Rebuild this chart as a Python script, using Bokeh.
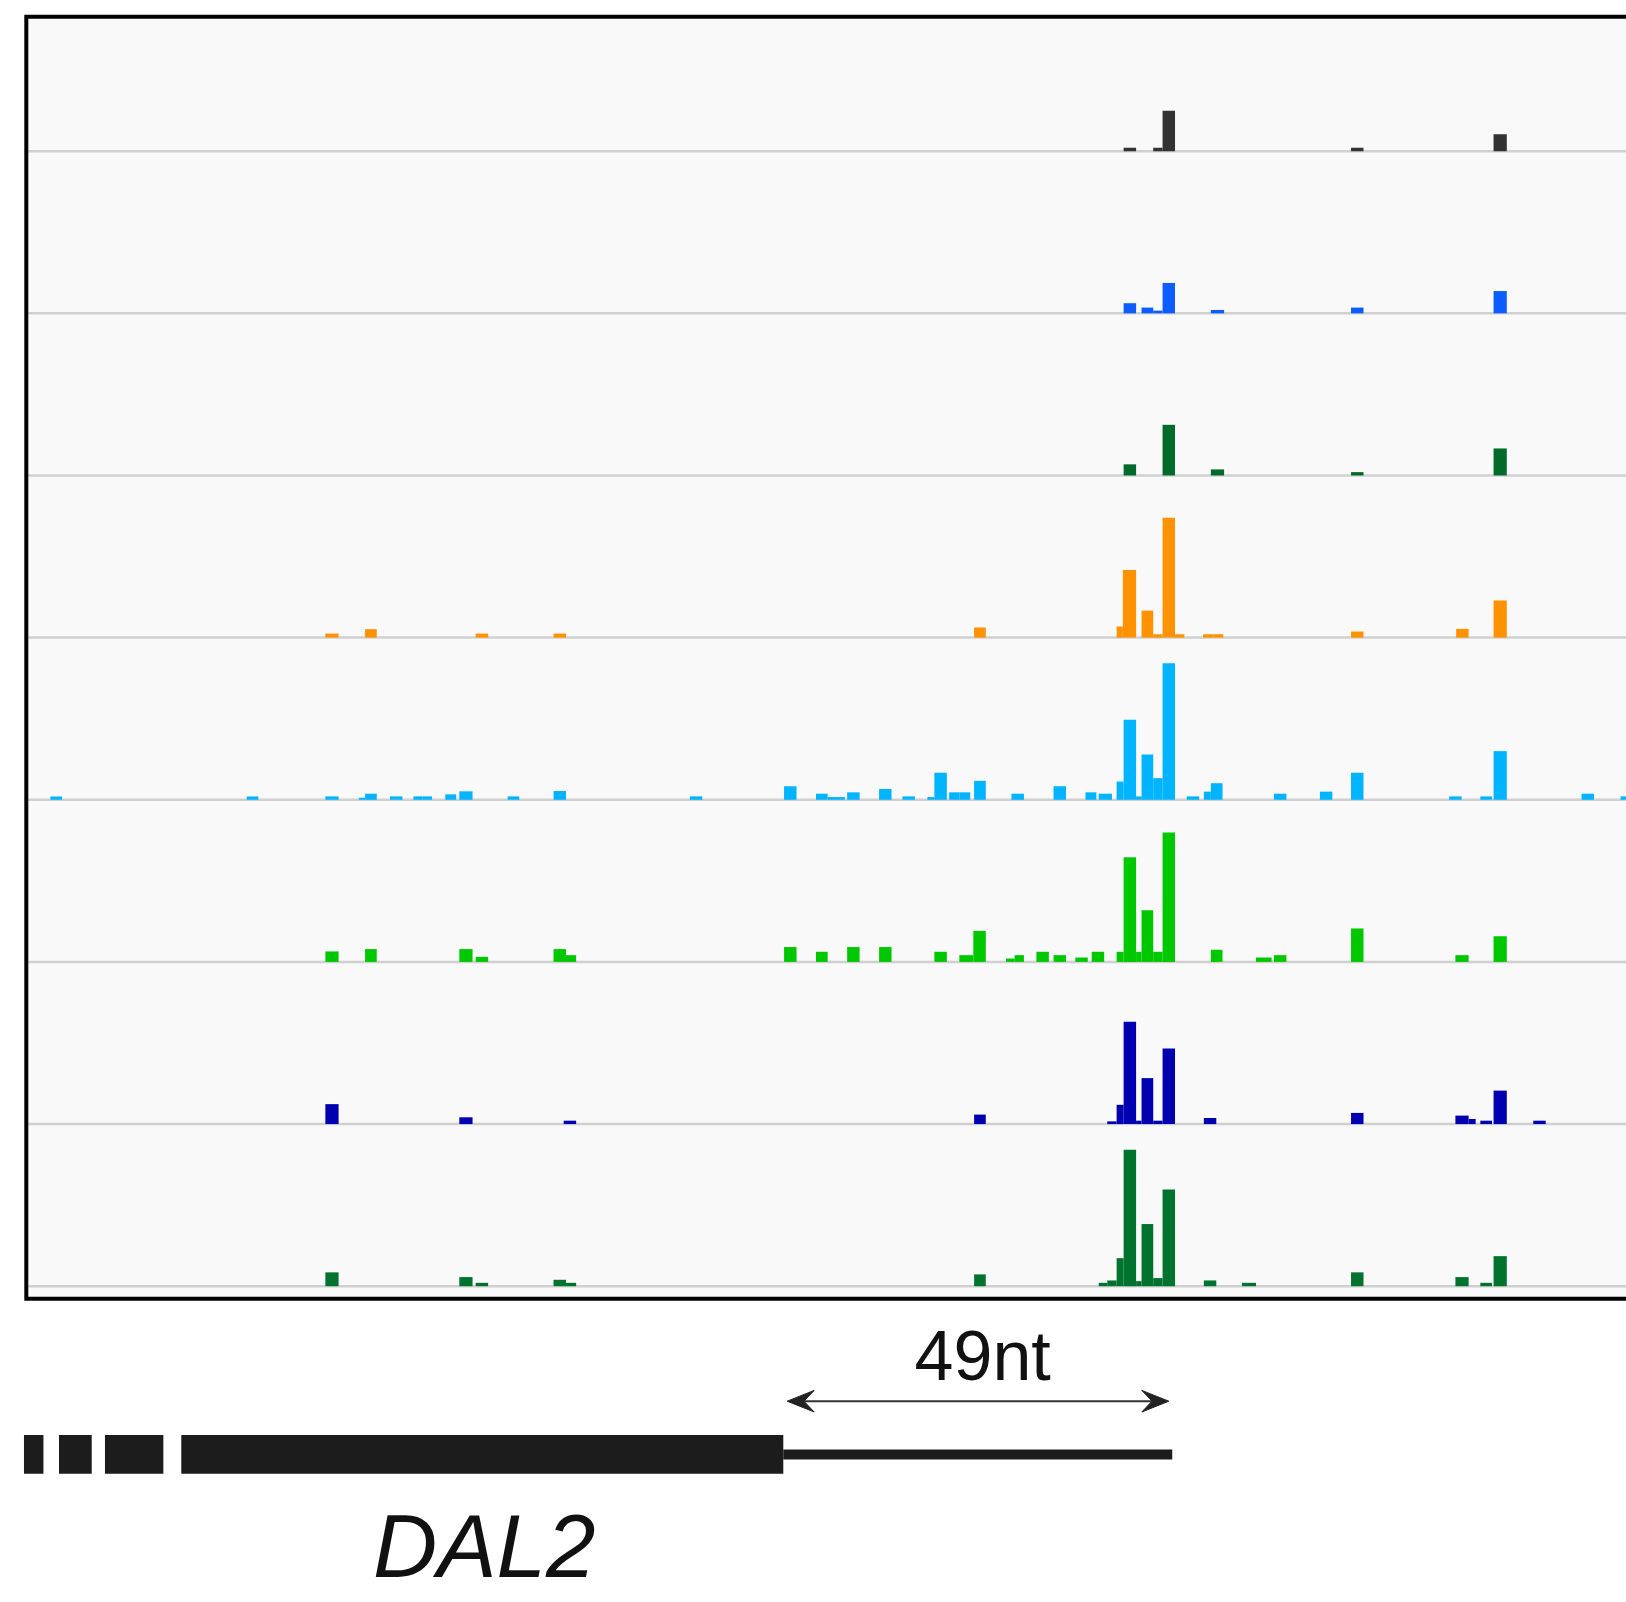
from bokeh.plotting import figure
from bokeh.models import Range1d, ColumnDataSource, Label
from bokeh.embed import file_html
from bokeh.resources import INLINE

# ---------------- DATA ----------------
# Coverage tracks: bins given as (start nt, end nt) relative to the poly(A) site, value = reads
trk1_start = [-5.8, -2.0, -0.8, 23.4, 41.7]
trk1_end   = [-4.2, -0.8,  0.8, 25.0, 43.4]
trk1_val   = [1, 1, 12, 1, 5]

trk2_start = [-5.8, -3.5, -2.0, -0.8, 5.4, 23.4, 41.7]
trk2_end   = [-4.2, -2.0, -0.8,  0.8, 7.1, 25.0, 43.4]
trk2_val   = [3, 1.7, 0.8, 9, 1, 1.7, 6.6]

trk3_start = [-5.8, -0.8, 5.4, 23.4, 41.7]
trk3_end   = [-4.2,  0.8, 7.1, 25.0, 43.4]
trk3_val   = [3.3, 15, 1.8, 1, 8]

trk4_start = [-108.3, -103.2, -89.0, -79.0, -25.0, -6.7, -5.9, -3.5, -2.0, -0.8, 0.8, 4.4, 5.7, 23.4, 36.9, 41.7]
trk4_end   = [-106.6, -101.7, -87.4, -77.4, -23.5, -5.9, -4.2, -2.0, -0.8,  0.8, 2.0, 5.7, 7.0, 25.0, 38.5, 43.4]
trk4_val   = [1.2, 2.5, 1.2, 1.2, 3, 3.3, 20, 8, 1, 35.5, 1, 1, 1, 1.8, 2.6, 11]

trk5_start = [-143.6, -118.4, -108.3, -104.0, -103.2, -100.0, -97.0, -95.8, -92.9, -91.1, -84.9, -79.0,
              -61.5, -49.4, -45.3, -43.8, -41.3, -37.2, -34.2, -31.0, -30.1, -28.2, -26.9, -25.0,
              -20.2, -14.8, -10.7, -9.0, -6.7, -5.8, -4.2, -3.5, -2.0, -0.8, 2.3, 4.5, 5.4,
              13.5, 19.4, 23.4, 36.0, 40.0, 41.7, 53.0, 58.0]
trk5_end   = [-142.1, -116.9, -106.6, -103.2, -101.7, -98.4, -95.8, -94.6, -91.5, -89.4, -83.4, -77.4,
              -59.9, -47.8, -43.8, -41.6, -39.7, -35.6, -32.6, -30.1, -28.5, -26.9, -25.5, -23.5,
              -18.6, -13.2, -9.3, -7.3, -5.8, -4.2, -3.5, -2.0, -0.8, 0.8, 3.9, 5.4, 6.9,
              15.1, 21.0, 25.0, 37.6, 41.5, 43.4, 54.6, 59.6]
trk5_val   = [1, 1, 1, 0.6, 1.8, 1, 1, 1, 1.6, 2.5, 1, 2.6,
              1, 4, 1.8, 0.8, 2.2, 3.2, 1, 0.8, 8, 2.2, 2.2, 5.6,
              1.8, 4, 2.2, 1.8, 5.4, 23.7, 1, 13.4, 6.4, 40.4, 1, 2.4, 4.9,
              1.8, 2.4, 8, 1, 1, 14.4, 1.8, 1]

trk6_start = [-108.3, -103.2, -91.1, -89.0, -79.0, -77.4, -49.4, -45.3, -41.3, -37.2, -30.1, -26.9, -25.1,
              -20.9, -19.8, -17.0, -14.8, -12.0, -9.9, -6.7, -5.8, -4.2, -3.5, -2.0, -0.8,
              5.4, 11.2, 13.5, 23.4, 36.8, 41.7]
trk6_end   = [-106.6, -101.7, -89.4, -87.4, -77.4, -76.1, -47.8, -43.8, -39.7, -35.6, -28.5, -25.1, -23.5,
              -19.8, -18.6, -15.4, -13.2, -10.4, -8.3, -5.8, -4.2, -3.5, -2.0, -0.8, 0.8,
              6.9, 13.2, 15.1, 25.0, 38.5, 43.4]
trk6_val   = [3.1, 3.8, 3.8, 1.5, 3.8, 2, 4.4, 3, 4.4, 4.4, 3, 2, 9.2,
              1, 2, 3, 2, 1.3, 3, 3, 31, 3, 15.3, 3, 38.3,
              3.6, 1.3, 2, 9.9, 2, 7.6]

trk7_start = [-108.3, -91.1, -77.7, -25.0, -7.9, -6.7, -5.8, -4.2, -3.5, -2.0, -0.8, 4.5, 23.4,
              36.8, 38.5, 40.0, 41.7, 46.8]
trk7_end   = [-106.6, -89.4, -76.1, -23.5, -6.7, -5.8, -4.2, -3.5, -2.0, -0.8,  0.8, 6.1, 25.0,
              38.5, 39.4, 41.5, 43.4, 48.4]
trk7_val   = [5.9, 2, 1, 2.8, 0.8, 5.7, 30.3, 1, 13.6, 1, 22.4, 1.8, 3.3,
              2.5, 1.5, 1, 9.9, 1]

trk8_start = [-108.3, -91.1, -89.0, -79.0, -77.4, -25.0, -9.0, -7.9, -6.7, -5.8, -4.2, -3.5, -2.0, -0.8,
              4.5, 9.4, 23.4, 36.8, 40.0, 41.7]
trk8_end   = [-106.6, -89.4, -87.4, -77.4, -76.1, -23.5, -7.9, -6.7, -5.8, -4.2, -3.5, -2.0, -0.8,  0.8,
              6.1, 11.2, 25.0, 38.5, 41.5, 43.4]
trk8_val   = [4.1, 2.7, 1, 1.9, 1, 3.5, 1, 1.7, 8.3, 40.4, 1.5, 18.4, 2.4, 28.6,
              1.7, 1, 4.1, 2.7, 1, 8.9]

track_colors = ["#333333", "#0d5cff", "#006b2b", "#ff9200", "#00b4ff", "#00c800", "#0000b0", "#00732f"]

# Gene model (nt relative to poly(A) site)
exon_start = [-147.0, -142.5, -136.6, -126.8]
exon_end   = [-144.5, -138.3, -129.1, -49.5]
utr_start  = -49.5
utr_end    = 0.44
span_start = -49.0
span_end   = 0.0
span_label = "49nt"
gene_name  = "DAL2"

# ---------------- LAYOUT ----------------
W, H = 1626, 1602
PX_PER_NT = 7.788
PX_PER_UNIT = 3.378
ORIGIN_X_PX = 1168.3        # canvas x of nt 0
BASE_Y_PX = 1285.7          # canvas y of lowest track baseline
TRACK_PITCH = 48.0          # track height in value units
N = 8

x0 = -ORIGIN_X_PX / PX_PER_NT
x1 = (W - ORIGIN_X_PX) / PX_PER_NT
y0 = -(H - BASE_Y_PX) / PX_PER_UNIT
y1 = BASE_Y_PX / PX_PER_UNIT

p = figure(width=W, height=H, output_backend="svg", toolbar_location=None,
           x_range=Range1d(x0, x1), y_range=Range1d(y0, y1),
           x_axis_type=None, y_axis_type=None, min_border=0,
           background_fill_color="white", border_fill_color="white")
p.grid.visible = False
p.outline_line_color = None

frame_left = -146.7
frame_right = x1 + 20
frame_top = N * TRACK_PITCH - 8.2
frame_bottom = -3.7

# panel background
p.quad(left=[frame_left], right=[frame_right], top=[frame_top], bottom=[frame_bottom],
       fill_color="#f9f9f9", line_color=None)

# baselines
bases = [(N - 1 - i) * TRACK_PITCH for i in range(N)]
p.segment(x0=[frame_left] * N, x1=[frame_right] * N, y0=bases, y1=bases,
          line_color="#d0d0d0", line_width=2.5)

tracks = [
    (trk1_start, trk1_end, trk1_val), (trk2_start, trk2_end, trk2_val),
    (trk3_start, trk3_end, trk3_val), (trk4_start, trk4_end, trk4_val),
    (trk5_start, trk5_end, trk5_val), (trk6_start, trk6_end, trk6_val),
    (trk7_start, trk7_end, trk7_val), (trk8_start, trk8_end, trk8_val),
]
for i, (s, e, v) in enumerate(tracks):
    b = bases[i]
    src = ColumnDataSource(dict(left=s, right=e, bottom=[b] * len(v), top=[b + x for x in v]))
    p.quad(left="left", right="right", bottom="bottom", top="top", source=src,
           fill_color=track_colors[i], line_color=None)

# frame border (left, top, bottom)
p.multi_line(xs=[[frame_right, frame_left, frame_left, frame_right]],
             ys=[[frame_top, frame_top, frame_bottom, frame_bottom]],
             line_color="black", line_width=4, line_join="miter")

# gene model
ex_top, ex_bot = -44.05, -55.54
ymid = (ex_top + ex_bot) / 2
p.quad(left=exon_start, right=exon_end, top=[ex_top] * 4, bottom=[ex_bot] * 4,
       fill_color="#1c1c1c", line_color=None)
p.segment(x0=[utr_start], x1=[utr_end], y0=[ymid], y1=[ymid],
          line_color="#1c1c1c", line_width=10, line_cap="butt")

# 49 nt span arrow with barbed heads
ay = -34.04
head_len = 27 / PX_PER_NT
head_half = 10.8 / PX_PER_UNIT
notch = 0.62 * head_len
p.segment(x0=[span_start + notch * 0.8], x1=[span_end - notch * 0.8], y0=[ay], y1=[ay],
          line_color="#333333", line_width=2)
heads_x = [
    [span_start, span_start + head_len, span_start + notch, span_start + head_len],
    [span_end, span_end - head_len, span_end - notch, span_end - head_len],
]
heads_y = [
    [ay, ay + head_half, ay, ay - head_half],
    [ay, ay + head_half, ay, ay - head_half],
]
p.patches(xs=heads_x, ys=heads_y, fill_color="#222222", line_color="#222222", line_width=1)

# text labels (empirical baseline compensation for SVG text placement)
p.add_layout(Label(x=(span_start + span_end) / 2 + 0.6, y=-20.7, text=span_label,
                   text_align="center", text_baseline="alphabetic",
                   text_font="Liberation Sans", text_font_size="70px", text_color="#111111"))
p.add_layout(Label(x=-87.9, y=-76.9, text=gene_name,
                   text_align="center", text_baseline="alphabetic",
                   text_font="Liberation Sans", text_font_size="89px",
                   text_font_style="italic", text_color="#111111"))

open("out.html", "w").write(file_html(p, INLINE))
